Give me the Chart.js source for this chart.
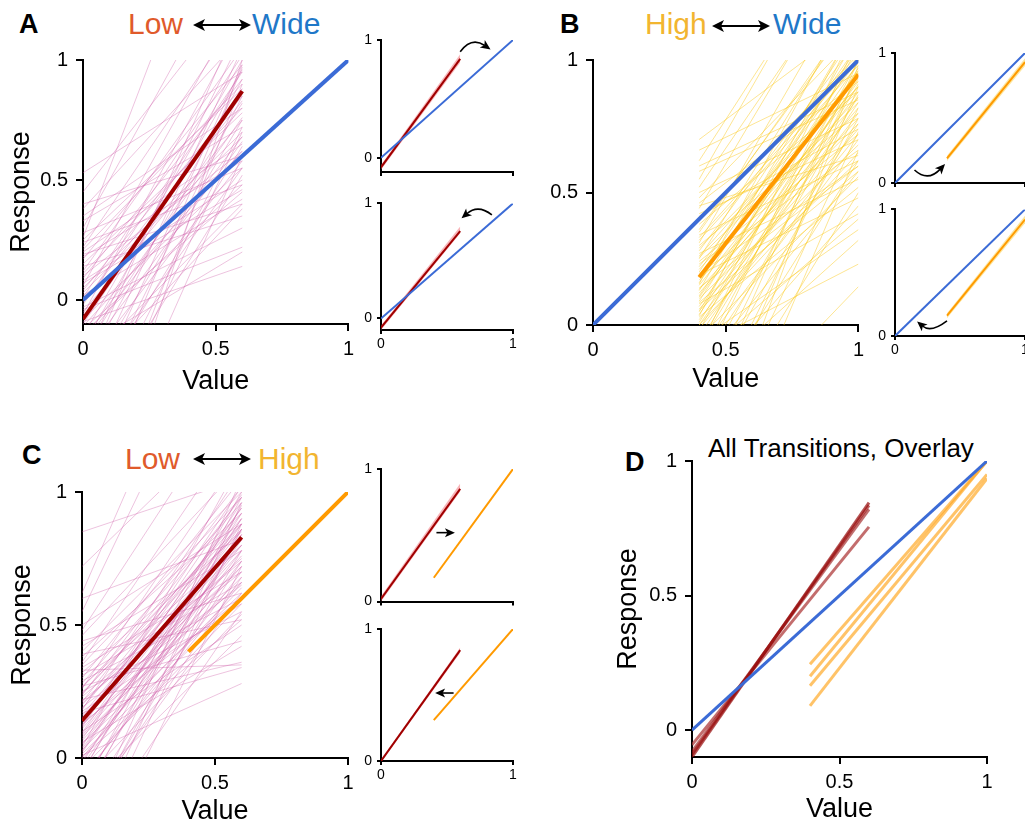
<!DOCTYPE html>
<html>
<head>
<meta charset="utf-8">
<script src="https://cdn.jsdelivr.net/npm/chart.js@4.4.0/dist/chart.umd.min.js"></script>
<style>
  body{margin:0;width:1025px;height:828px;overflow:hidden;background:#fff;position:relative;
       font-family:"Liberation Sans",Arial,Helvetica,sans-serif;color:#000}
  canvas{position:absolute}
  .letter{position:absolute;font-size:27px;font-weight:bold;line-height:1}
  .word{position:absolute;font-size:30px;line-height:1;white-space:nowrap}
  .dbl{position:absolute}
  .title{position:absolute;font-size:26px;line-height:1;white-space:nowrap}
</style>
</head>
<body>

<div class="letter" style="left:19px;top:11px">A</div>
<div class="word" style="left:128px;top:9px;color:#e05a2b">Low</div>
<svg class="dbl" style="left:193px;top:17px" width="58" height="16" viewBox="0 0 58 16"><line x1="8" y1="8" x2="50" y2="8" stroke="#000" stroke-width="2"/><polygon points="0,8 12,2 9,8 12,14"/><polygon points="58,8 46,2 49,8 46,14"/></svg>
<div class="word" style="left:252px;top:9px;color:#1f78c8">Wide</div>

<div class="letter" style="left:560px;top:11px">B</div>
<div class="word" style="left:645px;top:9px;color:#f2b530">High</div>
<svg class="dbl" style="left:712px;top:18px" width="58" height="16" viewBox="0 0 58 16"><line x1="8" y1="8" x2="50" y2="8" stroke="#000" stroke-width="2"/><polygon points="0,8 12,2 9,8 12,14"/><polygon points="58,8 46,2 49,8 46,14"/></svg>
<div class="word" style="left:773px;top:9px;color:#1f78c8">Wide</div>

<div class="letter" style="left:22px;top:442px">C</div>
<div class="word" style="left:125px;top:444px;color:#e05a2b">Low</div>
<svg class="dbl" style="left:193px;top:451px" width="58" height="16" viewBox="0 0 58 16"><line x1="8" y1="8" x2="50" y2="8" stroke="#000" stroke-width="2"/><polygon points="0,8 12,2 9,8 12,14"/><polygon points="58,8 46,2 49,8 46,14"/></svg>
<div class="word" style="left:258px;top:444px;color:#f2b530">High</div>

<div class="letter" style="left:625px;top:449px">D</div>
<div class="title" style="left:708px;top:435px">All Transitions, Overlay</div>

<canvas id="aMain" width="360" height="400" style="left:0;top:0"></canvas>
<canvas id="aTop" width="180" height="165" style="left:350px;top:25px"></canvas>
<canvas id="aBot" width="180" height="170" style="left:350px;top:190px"></canvas>
<canvas id="bMain" width="350" height="400" style="left:520px;top:0"></canvas>
<canvas id="bTop" width="200" height="160" style="left:860px;top:38px"></canvas>
<canvas id="bBot" width="200" height="170" style="left:860px;top:196px"></canvas>
<canvas id="cMain" width="360" height="398" style="left:0;top:430px"></canvas>
<canvas id="cTop" width="180" height="160" style="left:350px;top:455px"></canvas>
<canvas id="cBot" width="180" height="175" style="left:350px;top:615px"></canvas>
<canvas id="dMain" width="425" height="388" style="left:600px;top:440px"></canvas>

<script>
// ===== 數據 =====
const mainTicks = [0, 0.5, 1];
const insetTicks = [0, 1];

const lowX = [0, 0.6];
const highX = [0.4, 1];
const wideX = [0, 1];
const wideY = [0, 1];

// A: Low <-> Wide, 個別擬合線 (x=0 與 x=0.6 的值)
const aThinStart = [0.53,0.45,0.40,0.38,0.33,0.30,0.28,0.25,0.24,0.22,0.20,0.19,0.17,0.15,0.14,0.12,0.10,0.09,0.08,0.06,
  0.05,0.04,0.02,0.01,0.00,-0.02,-0.03,-0.05,-0.06,-0.08,-0.10,-0.12,-0.15,-0.18,-0.20,-0.22,-0.25,-0.28,-0.30,-0.33,
  -0.36,-0.40,-0.45,-0.50,-0.55,-0.62,-0.70,-0.80,-0.90,-1.00,0.26,0.18,0.11,0.03,-0.04,-0.09,-0.14,-0.19,-0.24,-0.32,
  0.35,0.21,0.07,-0.01,-0.11,-0.17,-0.27,-0.38,-0.48,-0.60];
const aThinEnd = [0.95,1.30,0.60,1.10,0.72,1.50,0.55,0.88,0.48,1.20,0.65,0.40,0.98,0.78,0.35,1.05,0.62,0.92,0.50,1.25,
  0.70,0.85,0.42,1.02,0.60,0.95,0.30,0.75,1.15,0.55,0.88,0.45,1.00,0.68,0.20,0.82,1.10,0.58,0.92,0.38,
  0.75,1.05,0.64,0.85,0.52,0.97,0.70,0.90,0.60,1.00,2.00,0.58,0.80,0.68,0.22,0.14,0.48,0.96,0.66,1.20,
  0.80,0.90,0.46,0.83,0.62,0.76,0.40,0.55,0.98,0.72];
const aMeanLow = [-0.08, 0.87];

// A 小圖
const aTopLow = [-0.08, 0.84], aTopHi = [-0.06, 0.88], aTopLo = [-0.10, 0.81];
const aBotLow = [-0.08, 0.76], aBotHi = [-0.06, 0.80], aBotLo = [-0.10, 0.74];
const aTopArrow = [[0.60, 0.90], [0.70, 0.97], [0.83, 0.92]];
const aBotArrow = [[0.84, 0.90], [0.73, 0.94], [0.61, 0.87]];

// B: High <-> Wide (x=0.4 與 x=1 的值)
const bThinStart = [0.70,0.66,0.62,0.58,0.55,0.52,0.50,0.48,0.46,0.44,0.42,0.40,0.38,0.36,0.34,0.32,0.31,0.30,0.28,0.27,
  0.26,0.25,0.24,0.22,0.21,0.20,0.19,0.18,0.17,0.16,0.15,0.14,0.13,0.12,0.11,0.10,0.09,0.08,0.07,0.06,
  0.05,0.04,0.03,0.02,0.01,0.00,-0.02,-0.04,-0.06,-0.08,-0.10,-0.13,-0.16,-0.20,-0.24,-0.28,-0.33,-0.40,-0.48,-0.56,
  -0.65,-0.75,0.45,0.35,0.29,0.23,0.185,0.135,0.085,0.035,-0.015,-0.07,-0.12,-0.18,-0.30,-0.50,0.60,0.41,0.33,0.255,
  0.195,0.155,0.105,0.055,0.0,-0.05,-0.09,-0.15,-0.22,-0.36,-0.48,-0.08];
const bThinEnd = [1.15,0.95,1.55,0.85,1.60,1.40,0.78,1.10,0.92,1.45,0.70,1.02,0.88,1.18,0.62,0.98,1.35,0.80,1.08,0.55,
  0.94,1.22,0.72,1.00,0.86,1.12,0.48,0.96,0.76,1.05,0.90,0.60,1.15,0.82,0.99,0.68,1.02,0.42,0.88,0.74,
  1.10,0.93,0.52,0.80,0.97,0.65,1.05,0.84,0.36,0.91,0.70,1.00,0.58,0.87,0.45,0.95,0.62,0.82,0.50,0.73,
  0.98,0.66,0.64,1.20,0.90,0.66,1.06,0.78,0.58,1.16,0.72,0.96,0.40,1.08,0.78,0.90,0.88,0.74,1.00,0.84,
  0.60,1.26,0.92,0.62,0.86,0.56,1.14,0.76,0.32,1.00,0.145,0.23];
const bMeanHigh = [0.18, 0.945];

const bTopHigh = [0.19, 0.93], bTopHi = [0.21, 0.96], bTopLo = [0.17, 0.90];
const bBotHigh = [0.16, 0.92], bBotHi = [0.18, 0.95], bBotLo = [0.14, 0.89];
const bTopArrow = [[0.15, 0.10], [0.26, 0.064], [0.385, 0.146]];
const bBotArrow = [[0.40, 0.12], [0.28, 0.07], [0.17, 0.115]];

// C: Low <-> High
const cThinStart = [0.85,0.72,0.62,0.55,0.50,0.46,0.42,0.40,0.38,0.36,0.34,0.32,0.30,0.29,0.28,0.27,0.26,0.25,0.24,0.23,
  0.22,0.21,0.20,0.19,0.18,0.17,0.16,0.15,0.14,0.13,0.12,0.11,0.10,0.09,0.08,0.07,0.06,0.05,0.04,0.03,
  0.02,0.01,0.00,-0.02,-0.04,-0.06,-0.08,-0.10,-0.13,-0.16,-0.20,-0.24,-0.28,-0.33,-0.40,-0.48,0.35,0.31,0.265,0.235,
  0.205,0.175,0.145,0.115,0.085,0.055,0.025,0.005,-0.03,-0.07,-0.12,-0.18,-0.26,0.44,0.33,0.27,0.245,0.215,0.185,0.155,
  0.125,0.095,0.065,0.035,0.015,-0.01,-0.05,-0.09,-0.14,-0.22,-0.36,0.60,0.48,0.39];
const cThinEnd = [1.05,1.30,2.00,1.80,0.88,1.10,0.78,1.00,0.92,1.25,0.70,0.85,1.05,0.60,0.96,0.80,1.15,0.55,0.90,0.74,
  0.36,0.98,0.82,0.65,1.08,0.34,0.88,0.72,0.94,0.60,1.02,0.78,0.50,0.86,0.68,0.96,0.42,0.80,1.12,0.64,
  0.88,0.28,0.74,0.92,0.58,1.00,0.70,0.84,0.46,0.95,0.62,0.78,1.05,0.55,0.88,0.72,0.98,0.66,0.88,1.02,
  0.75,0.58,0.84,0.99,0.76,0.62,0.90,0.52,0.82,0.66,0.98,0.74,0.86,0.62,0.35,0.44,0.86,0.70,0.92,0.80,
  0.66,0.94,0.72,0.84,0.60,0.78,0.90,0.54,0.86,0.68,0.96,0.82,1.40,0.52];
const cMeanLow = [0.14, 0.83];
const cMeanHigh = [0.40, 1.0];

const cTopLow = [0.02, 0.85], cTopHi = [0.04, 0.89], cTopLo = [0.00, 0.83];
const cTopHigh = [0.18, 1.0];
const cBotLow = [0.0, 0.84], cBotHi = [0.01, 0.86], cBotLo = [-0.01, 0.82];
const cBotHigh = [0.31, 1.0];
const cTopArrow = [[0.42, 0.52], null, [0.56, 0.52]];
const cBotArrow = [[0.55, 0.515], null, [0.41, 0.515]];

// D: 全部疊圖
const dLowStart = [-0.10, -0.09, -0.08, -0.055];
const dLowEnd = [0.845, 0.835, 0.82, 0.755];
const dHighStart = [0.245, 0.20, 0.165, 0.09];
const dHighEnd = [1.0, 1.0, 0.95, 0.935];

// ===== 樣式 =====
const FONT = '"Liberation Sans", Arial, Helvetica, sans-serif';
const BLUE = '#3b6bd6', RED = '#a00000', ORANGE = '#ff9a00';
const PINK = 'rgba(205,90,165,0.36)', YELLOW = 'rgba(250,200,30,0.48)';

function seg(xs, ys, color, width){
  return { data: xs.map((x,i)=>({x, y: ys[i]})), borderColor: color, borderWidth: width,
           pointRadius: 0, fill: false, tension: 0 };
}
function band(xs, hi, lo, color){
  return [ seg(xs, hi, 'rgba(0,0,0,0)', 0),
           Object.assign(seg(xs, lo, 'rgba(0,0,0,0)', 0), { fill: '-1', backgroundColor: color }) ];
}
function thin(xs, starts, ends, color){
  return starts.map((s,i)=>seg(xs, [s, ends[i]], color, 1));
}

function scale(min, ticks, o){
  return {
    type: 'linear', min, max: 1,
    afterBuildTicks: s => { s.ticks = ticks.map(v => ({ value: v })); },
    afterFit: s => { if (s.isHorizontal()) s.height = o.fit; else s.width = o.fit; },
    grid: { drawOnChartArea: false, drawTicks: true, tickLength: o.tick, color: '#000', lineWidth: 2 },
    border: { display: true, color: '#000', width: 2 },
    ticks: { display: o.labels !== false, padding: o.pad, color: '#000', autoSkip: false, maxRotation: 0,
             font: { family: FONT, size: o.fs }, callback: v => String(v) },
    title: { display: !!o.title, text: o.title || '', color: '#000',
             font: { family: FONT, size: 27 }, padding: o.tpad || 0 }
  };
}

// 曲線箭頭
function arrowPlugin(list){
  return {
    id: 'arrows',
    afterDatasetsDraw(chart){
      const { ctx, scales: { x, y } } = chart;
      list.forEach(a => {
        const p0 = { x: x.getPixelForValue(a[0][0]), y: y.getPixelForValue(a[0][1]) };
        const p1 = { x: x.getPixelForValue(a[2][0]), y: y.getPixelForValue(a[2][1]) };
        let c = p0;
        if (a[1]) {
          const m = { x: x.getPixelForValue(a[1][0]), y: y.getPixelForValue(a[1][1]) };
          c = { x: 2*m.x - (p0.x+p1.x)/2, y: 2*m.y - (p0.y+p1.y)/2 };
        }
        const ang = Math.atan2(p1.y - c.y, p1.x - c.x);
        const L = 10, W = 4.5;
        ctx.save();
        ctx.strokeStyle = '#000'; ctx.fillStyle = '#000'; ctx.lineWidth = 1.6;
        ctx.beginPath(); ctx.moveTo(p0.x, p0.y);
        const ex = p1.x - Math.cos(ang)*L*0.7, ey = p1.y - Math.sin(ang)*L*0.7;
        if (a[1]) ctx.quadraticCurveTo(c.x, c.y, ex, ey); else ctx.lineTo(ex, ey);
        ctx.stroke();
        ctx.beginPath(); ctx.moveTo(p1.x, p1.y);
        ctx.lineTo(p1.x - L*Math.cos(ang) + W*Math.sin(ang), p1.y - L*Math.sin(ang) - W*Math.cos(ang));
        ctx.lineTo(p1.x - L*Math.cos(ang)*0.75, p1.y - L*Math.sin(ang)*0.75);
        ctx.lineTo(p1.x - L*Math.cos(ang) - W*Math.sin(ang), p1.y - L*Math.sin(ang) + W*Math.cos(ang));
        ctx.closePath(); ctx.fill();
        ctx.restore();
      });
    }
  };
}

function makeChart(id, datasets, pad, xs, ys, arrows){
  return new Chart(document.getElementById(id), {
    type: 'line',
    data: { datasets },
    options: {
      responsive: false, animation: false, events: [],
      layout: { padding: { top: pad[0], right: pad[1], bottom: 0, left: 0 } },
      plugins: { legend: { display: false }, tooltip: { enabled: false } },
      scales: { x: xs, y: ys }
    },
    plugins: arrows ? [arrowPlugin(arrows)] : []
  });
}

const mainX = (fit, title, tpad) => scale(0, mainTicks, { fit, tick: 7, pad: 6, fs: 20, title, tpad: { bottom: tpad } });
const mainY = (min, fit, title, tpad) => scale(min, mainTicks, { fit, tick: 7, pad: 8, fs: 20, title, tpad: { top: tpad } });
const insX = (fit, labels) => scale(0, insetTicks, { fit, tick: 4, pad: 2, fs: 14, labels });
const insY = (min, fit) => scale(min, insetTicks, { fit, tick: 4, pad: 5, fs: 14 });

// ===== A =====
makeChart('aMain', [
  seg(wideX, wideY, BLUE, 4),
  seg(lowX, aMeanLow, RED, 4),
  ...thin(lowX, aThinStart, aThinEnd, PINK)
], [60, 10], mainX(76, 'Value', 2), mainY(-0.1, 83, 'Response', 5));

makeChart('aTop', [
  seg(wideX, wideY, BLUE, 2),
  seg(lowX, aTopLow, RED, 2),
  ...band(lowX, aTopHi, aTopLo, 'rgba(240,90,100,0.45)')
], [15, 17], insX(18, false), insY(-0.12, 31), [aTopArrow]);

makeChart('aBot', [
  seg(wideX, wideY, BLUE, 2),
  seg(lowX, aBotLow, RED, 2),
  ...band(lowX, aBotHi, aBotLo, 'rgba(240,90,100,0.45)')
], [9, 17], insX(30, true), insY(-0.1, 31), [aBotArrow]);

// ===== B =====
makeChart('bMain', [
  seg(wideX, wideY, BLUE, 4),
  seg(highX, bMeanHigh, ORANGE, 4),
  ...thin(highX, bThinStart, bThinEnd, YELLOW)
], [60, 10], mainX(75, 'Value', 4), mainY(0, 73));

makeChart('bTop', [
  seg(wideX, wideY, BLUE, 2),
  seg(highX, bTopHigh, ORANGE, 2),
  ...band(highX, bTopHi, bTopLo, 'rgba(250,200,40,0.45)')
], [15, 35], insX(15, false), insY(0, 35), [bTopArrow]);

makeChart('bBot', [
  seg(wideX, wideY, BLUE, 2),
  seg(highX, bBotHigh, ORANGE, 2),
  ...band(highX, bBotHi, bBotLo, 'rgba(250,200,40,0.45)')
], [10, 35], insX(30, true), insY(0, 35), [bBotArrow]);

// ===== C =====
makeChart('cMain', [
  seg(highX, cMeanHigh, ORANGE, 4),
  seg(lowX, cMeanLow, RED, 4),
  ...thin(lowX, cThinStart, cThinEnd, PINK)
], [62, 12], mainX(70, 'Value', 0), mainY(0, 82, 'Response', 6));

makeChart('cTop', [
  seg(highX, cTopHigh, ORANGE, 2),
  seg(lowX, cTopLow, RED, 2),
  ...band(lowX, cTopHi, cTopLo, 'rgba(240,90,100,0.45)')
], [14, 17], insX(13, false), insY(0, 31), [cTopArrow]);

makeChart('cBot', [
  seg(highX, cBotHigh, ORANGE, 2),
  seg(lowX, cBotLow, RED, 2),
  ...band(lowX, cBotHi, cBotLo, 'rgba(240,90,100,0.45)')
], [14, 17], insX(29, true), insY(0, 31), [cBotArrow]);

// ===== D =====
const dRedColors = ['rgba(150,10,10,0.7)', 'rgba(160,20,20,0.65)', 'rgba(150,15,15,0.6)', 'rgba(175,60,60,0.75)'];
makeChart('dMain', [
  seg(wideX, wideY, BLUE, 3),
  ...dLowStart.map((s,i)=>seg(lowX, [s, dLowEnd[i]], dRedColors[i], 3)),
  ...dHighStart.map((s,i)=>seg(highX, [s, dHighEnd[i]], 'rgba(255,170,40,0.7)', 3))
], [21, 38], mainX(71, 'Value', 2), mainY(-0.1, 92, 'Response', 12));
</script>
</body>
</html>
